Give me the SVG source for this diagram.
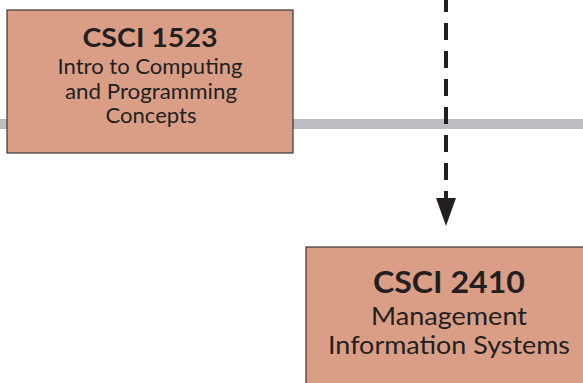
<svg xmlns="http://www.w3.org/2000/svg" width="583" height="383" viewBox="0 0 583 383">
<style>
.box{fill:#da9e86;stroke:#3a3536;stroke-width:1.2}
.t{font-family:Lato,"Open Sans","Liberation Sans",sans-serif;fill:#231f20;text-anchor:middle}
.b{font-weight:bold}
</style>
<g id="connectors">
<rect x="0" y="119" width="583" height="10" fill="#bcbdc0"/>
<line x1="446" y1="-5" x2="446" y2="198" stroke="#231f20" stroke-width="4" stroke-dasharray="17,11"/>
<path d="M436,198 L456,198 L446,226 Z" fill="#231f20"/>
</g>
<g id="csci1523">
<rect class="box" x="7" y="10" width="286" height="143"/>
<text class="t b" x="150" y="47" font-size="27" textLength="135" lengthAdjust="spacingAndGlyphs">CSCI 1523</text>
<text class="t" x="150" y="74" font-size="20.5" textLength="185" lengthAdjust="spacingAndGlyphs">Intro to Computing</text>
<text class="t" x="151" y="99" font-size="20.5" textLength="172" lengthAdjust="spacingAndGlyphs">and Programming</text>
<text class="t" x="151" y="123" font-size="20.5" textLength="91" lengthAdjust="spacingAndGlyphs">Concepts</text>
</g>
<g id="csci2410">
<rect class="box" x="306" y="247" width="290" height="150"/>
<text class="t b" x="449" y="293" font-size="31" textLength="152" lengthAdjust="spacingAndGlyphs">CSCI 2410</text>
<text class="t" x="449" y="325" font-size="25" textLength="156" lengthAdjust="spacingAndGlyphs">Management</text>
<text class="t" x="449" y="354" font-size="25" textLength="242" lengthAdjust="spacingAndGlyphs">Information Systems</text>
</g>
</svg>
